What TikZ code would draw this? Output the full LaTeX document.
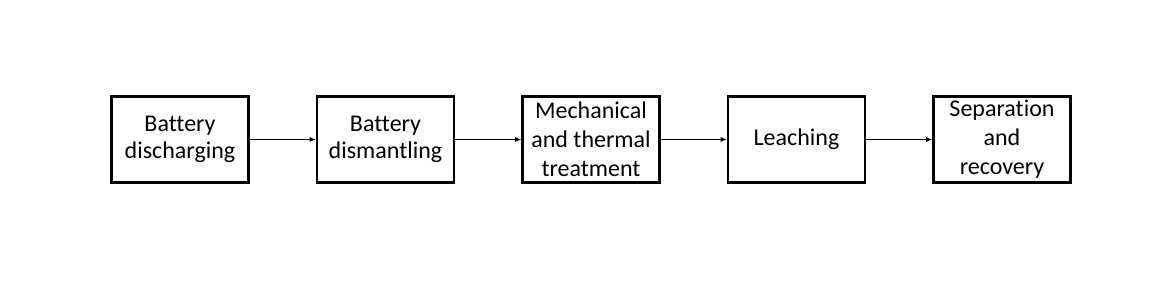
\documentclass[tikz,border=0pt]{standalone}
\usepackage{fontspec}
\setmainfont[Ligatures={NoCommon}]{Carlito}
\usetikzlibrary{arrows.meta}
\begin{document}
\begin{tikzpicture}[x=1pt,y=1pt,
  stepbox/.style={draw=black, line width=2.6pt, minimum width=137pt, minimum height=86pt,
    inner sep=0pt, align=center, font=\fontsize{24}{26.5}\selectfont},
  tall/.style={font=\fontsize{24}{29}\selectfont},
  flow/.style={line width=0.9pt, -{Latex[length=6pt,width=5pt]}}]
\useasboundingbox (0,0) rectangle (1170,304);
\node[stepbox] (a) at (180,164.5) {Battery\\discharging};
\node[stepbox] (b) at (385.5,164.5) {Battery\\dismantling};
\node[stepbox, tall] (c) at (591,164.5) {Mechanical\\and thermal\\treatment};
\node[stepbox] (d) at (796.5,164.5) {Leaching};
\node[stepbox, tall] (e) at (1002,164.5) {Separation\\and\\recovery};
\draw[flow] (a) -- (b);
\draw[flow] (b) -- (c);
\draw[flow] (c) -- (d);
\draw[flow] (d) -- (e);
\end{tikzpicture}
\end{document}
